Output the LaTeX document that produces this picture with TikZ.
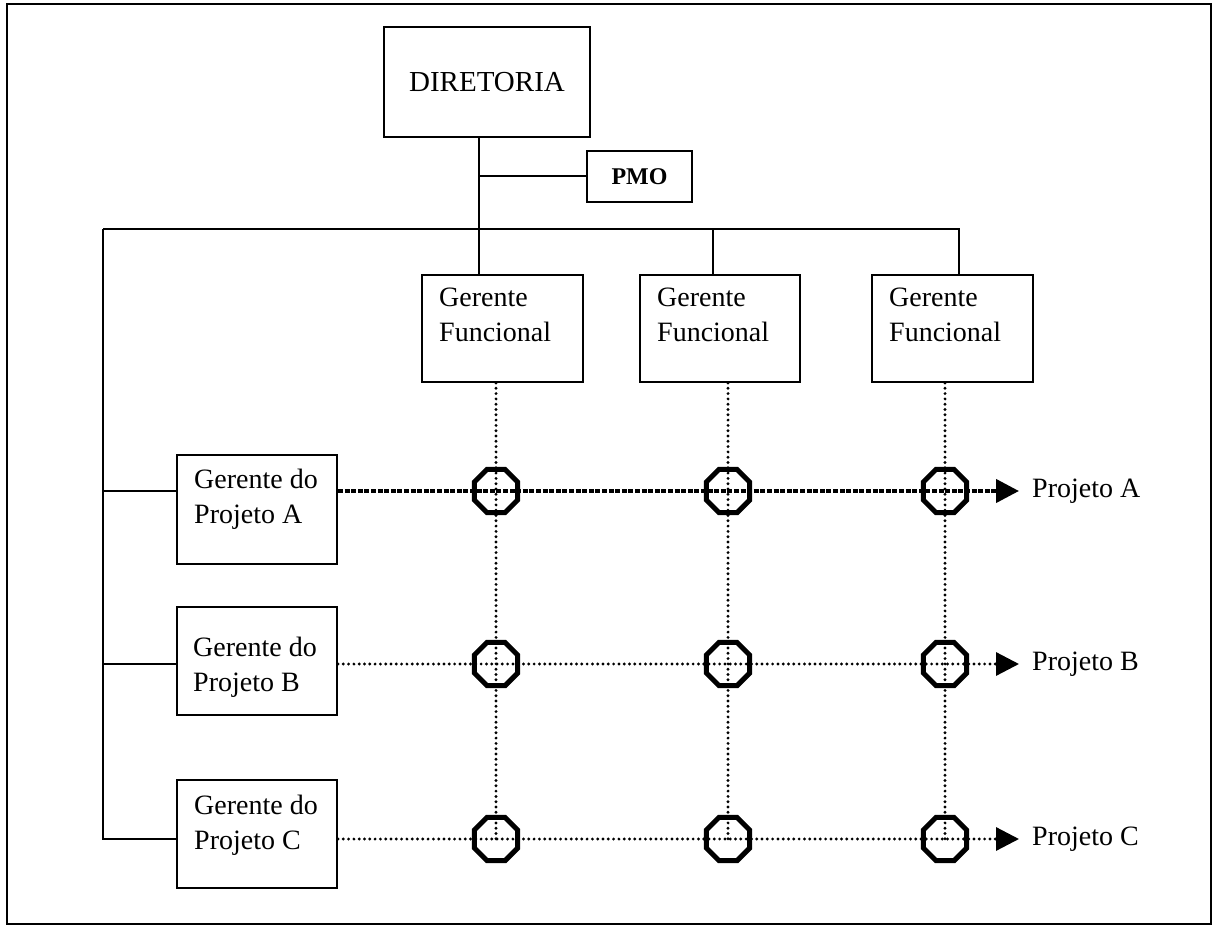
\documentclass[tikz,border=0pt]{standalone}
\usepackage{fontspec}
\setmainfont{Liberation Serif}
\usetikzlibrary{shapes.geometric,arrows.meta,positioning}

\tikzset{
  org/.style={draw, line width=2pt, inner sep=0pt},
  conn/.style={line width=2pt},
  dotline/.style={line width=3.2pt, line cap=round, dash pattern=on 0pt off 5.3pt},
  mainline/.style={line width=4.2pt, dash pattern=on 5pt off 1.6pt},
  octa/.style={draw, regular polygon, regular polygon sides=8, minimum size=47pt, inner sep=0pt, line width=5pt},
  projarrow/.style={-{Triangle[length=23pt,width=23pt]}},
  txt/.style={font=\fontsize{28}{35}\selectfont, inner sep=0pt, align=left},
  intxt/.style={txt, anchor=north west}
}

\begin{document}
\begin{tikzpicture}[x=1pt, y=-1pt]
\useasboundingbox (0,0) rectangle (1215,928);
% frame
\draw[conn] (7,4) rectangle (1211,924);

% top of the chart
\node[org, minimum width=206pt, minimum height=110pt, font=\fontsize{29}{35}\selectfont] (dir) at (487,82) {DIRETORIA};
\node[org, minimum width=105pt, minimum height=51pt, font=\fontsize{24}{28}\selectfont\bfseries] (pmo) at (639.5,176.5) {PMO};

% functional managers
\node[org, minimum width=161pt, minimum height=107pt] (gf1) at (502.5,328.5) {};
\node[org, minimum width=160pt, minimum height=107pt] (gf2) at (720,328.5) {};
\node[org, minimum width=161pt, minimum height=107pt] (gf3) at (952.5,328.5) {};
\foreach \c in {1,2,3}
  \node[intxt] (gf\c t) at ([shift={(18,14)}]gf\c.north west) {Gerente\\Funcional};

% project managers
\node[org, minimum width=160pt, minimum height=109pt] (gpA) at (257,509.5) {};
\node[org, minimum width=160pt, minimum height=108pt] (gpB) at (257,661) {};
\node[org, minimum width=160pt, minimum height=108pt] (gpC) at (257,834) {};
\node[intxt] (gpAt) at ([shift={(18,15)}]gpA.north west) {Gerente do\\Projeto A};
\node[intxt] (gpBt) at ([shift={(17,31)}]gpB.north west) {Gerente do\\Projeto B};
\node[intxt] (gpCt) at ([shift={(18,16)}]gpC.north west) {Gerente do\\Projeto C};

% junctions
\coordinate (j0) at (103,229);
\coordinate (j1) at (479,229);
\coordinate (j2) at (713,229);
\coordinate (j3) at (959,229);

% solid lines
\draw[conn] (dir.south -| j1) -- (j1);
\draw[conn] (pmo.west) -- (pmo.west -| j1);
\draw[conn] (j0) -- (j3) -- (gf3.north -| j3);
\draw[conn] (j1) -- (gf1.north -| j1);
\draw[conn] (j2) -- (gf2.north -| j2);

% matrix crossings
\foreach \r/\y in {A/491,B/664,C/839} {
  \foreach \c/\x in {1/496,2/728,3/945}
    \node[octa] (o\r\c) at (\x,\y) {};
  \coordinate (tip\r) at (1019,\y);
}

\draw[conn] (j0) -- (j0 |- oC1) -- (gpC.west |- oC1);
\draw[conn] (j0 |- oA1) -- (gpA.west |- oA1);
\draw[conn] (j0 |- oB1) -- (gpB.west |- oB1);

% dotted lines
\foreach \c in {1,2,3}
  \draw[dotline] (gf\c.south -| oA\c) -- (oC\c.center);
\draw[mainline, projarrow] (gpA.east |- oA1) -- (tipA);
\foreach \r in {B,C}
  \draw[dotline, projarrow] (gp\r.east |- o\r1) -- (tip\r);

% projects
\node[txt, right=13pt of tipA] (prjA) {Projeto A};
\node[txt, right=13pt of tipB] (prjB) {Projeto B};
\node[txt, right=13pt of tipC] (prjC) {Projeto C};
\end{tikzpicture}
\end{document}
